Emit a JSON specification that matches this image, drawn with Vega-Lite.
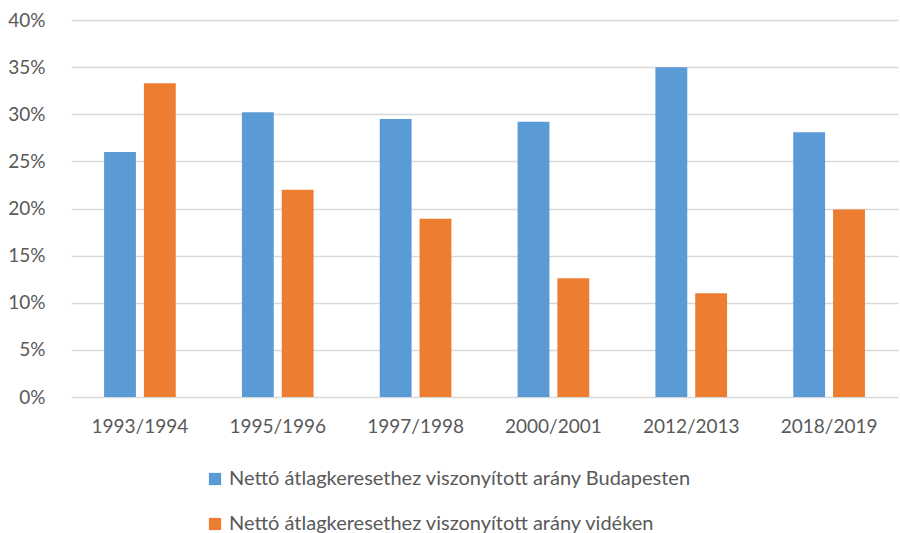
{
  "$schema": "https://vega.github.io/schema/vega-lite/v6.json",
  "width": 827,
  "height": 377,
  "autosize": {"type": "none"},
  "padding": {"left": 71, "top": 20, "right": 2, "bottom": 136},
  "background": "white",
  "config": {
    "view": {"stroke": null},
    "font": "Lato",
    "axis": {"labelFont": "Lato", "labelColor": "#595959", "labelFontSize": 19}
  },
  "data": {
    "values": [
      {"period": "1993/1994", "series": "Nettó átlagkeresethez viszonyított arány Budapesten", "value": 0.260},
      {"period": "1993/1994", "series": "Nettó átlagkeresethez viszonyított arány vidéken", "value": 0.333},
      {"period": "1995/1996", "series": "Nettó átlagkeresethez viszonyított arány Budapesten", "value": 0.302},
      {"period": "1995/1996", "series": "Nettó átlagkeresethez viszonyított arány vidéken", "value": 0.220},
      {"period": "1997/1998", "series": "Nettó átlagkeresethez viszonyított arány Budapesten", "value": 0.295},
      {"period": "1997/1998", "series": "Nettó átlagkeresethez viszonyított arány vidéken", "value": 0.189},
      {"period": "2000/2001", "series": "Nettó átlagkeresethez viszonyított arány Budapesten", "value": 0.292},
      {"period": "2000/2001", "series": "Nettó átlagkeresethez viszonyított arány vidéken", "value": 0.126},
      {"period": "2012/2013", "series": "Nettó átlagkeresethez viszonyított arány Budapesten", "value": 0.350},
      {"period": "2012/2013", "series": "Nettó átlagkeresethez viszonyított arány vidéken", "value": 0.110},
      {"period": "2018/2019", "series": "Nettó átlagkeresethez viszonyított arány Budapesten", "value": 0.281},
      {"period": "2018/2019", "series": "Nettó átlagkeresethez viszonyított arány vidéken", "value": 0.199}
    ]
  },
  "mark": {"type": "bar"},
  "encoding": {
    "x": {
      "field": "period", "type": "nominal", "sort": null,
      "scale": {"paddingInner": 0.48, "paddingOuter": 0.24},
      "axis": {"title": null, "labelAngle": 0, "ticks": false, "domain": false, "labelPadding": 20, "labelOverlap": false}
    },
    "xOffset": {
      "field": "series", "type": "nominal",
      "scale": {"paddingInner": 0.2, "paddingOuter": 0}
    },
    "y": {
      "field": "value", "type": "quantitative",
      "scale": {"domain": [0, 0.4], "nice": false},
      "axis": {
        "title": null, "format": ".0%", "values": [0, 0.05, 0.1, 0.15, 0.2, 0.25, 0.3, 0.35, 0.4],
        "ticks": false, "domain": false, "labelPadding": 26, "labelOverlap": false,
        "gridColor": "#D9D9D9", "gridWidth": 1.3
      }
    },
    "color": {
      "field": "series", "type": "nominal",
      "scale": {"range": ["#5B9BD5", "#ED7D31"]},
      "legend": {
        "title": null, "orient": "none", "legendX": 134, "legendY": 449,
        "direction": "vertical", "symbolType": "square", "symbolSize": 150,
        "symbolStrokeWidth": 0, "labelFontSize": 20, "labelFont": "Lato",
        "labelColor": "#595959", "rowPadding": 25, "labelOffset": 4, "labelLimit": 700
      }
    }
  }
}
